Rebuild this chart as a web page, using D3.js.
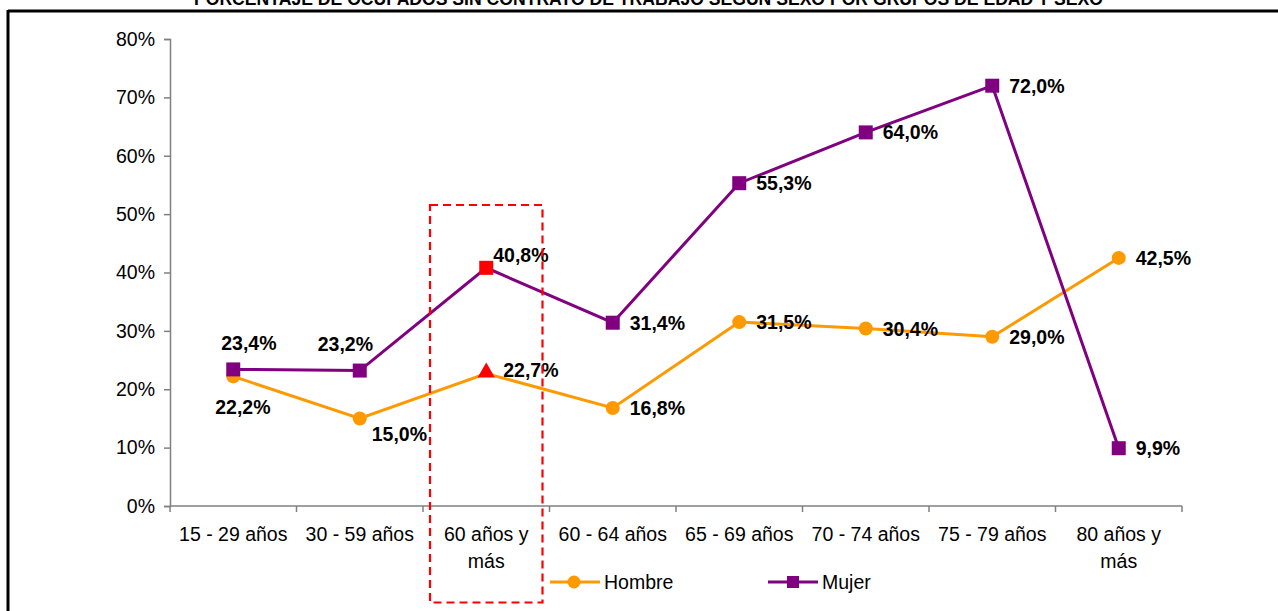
<!DOCTYPE html>
<html>
<head>
<meta charset="utf-8">
<script src="https://cdn.jsdelivr.net/npm/d3@7"></script>
<style>
  html, body { margin: 0; padding: 0; background: #fff; }
  svg { display: block; }
</style>
</head>
<body>
<svg id="chart" width="1278" height="611"></svg>
<script>
// ---- data ----
const title = "PORCENTAJE DE OCUPADOS SIN CONTRATO DE TRABAJO SEGÚN SEXO POR GRUPOS DE EDAD Y SEXO";
const categories = [
  ["15 - 29 años"], ["30 - 59 años"], ["60 años y", "más"], ["60 - 64 años"],
  ["65 - 69 años"], ["70 - 74 años"], ["75 - 79 años"], ["80 años y", "más"]
];
const hombre = [22.2, 15.0, 22.7, 16.8, 31.5, 30.4, 29.0, 42.5];
const mujer  = [23.4, 23.2, 40.8, 31.4, 55.3, 64.0, 72.0, 9.9];
const yTicks = [0, 10, 20, 30, 40, 50, 60, 70, 80];
const seriesNames = ["Hombre", "Mujer"];
const highlightIndex = 2;

// ---- label placement (layout only) ----
const hombreLabelOffsets = [[-18, 38], [12, 23], [17, 4], [17, 7], [17, 7], [17, 7], [17, 7], [17, 7]];
const mujerLabelOffsets  = [[-12, -19], [-42, -20], [7, -6], [17, 7], [17, 7], [17, 7], [17, 7], [17, 7]];

const svg = d3.select("#chart");
const colorH = "#FF9900", colorM = "#800080";
const fontAxis = "'Liberation Sans', Arial, sans-serif";
const axisSize = 19.5;

// Frame
svg.append("line").attr("x1", 8).attr("x2", 1278).attr("y1", 11).attr("y2", 11)
  .attr("stroke", "#000").attr("stroke-width", 3);
svg.append("line").attr("x1", 8).attr("x2", 8).attr("y1", 10).attr("y2", 611)
  .attr("stroke", "#000").attr("stroke-width", 3);

// Title (clipped by top edge, as in the reference)
svg.append("text").text(title)
  .attr("x", 194).attr("y", 5)
  .attr("textLength", 909).attr("lengthAdjust", "spacingAndGlyphs")
  .attr("font-family", "'Liberation Sans Narrow', 'Liberation Sans', Arial, sans-serif")
  .attr("font-weight", "bold").attr("font-size", 18).attr("fill", "#000");

const x = d3.scaleBand().domain(d3.range(categories.length)).range([170, 1182]);
const y = d3.scaleLinear().domain([0, 80]).range([506, 39]);
const cx = i => x(i) + x.bandwidth() / 2;

// Y axis
const yAxis = svg.append("g").attr("transform", "translate(170,0)")
  .call(d3.axisLeft(y).tickValues(yTicks).tickFormat(d => d + "%").tickSize(6).tickPadding(9));
yAxis.select(".domain").attr("stroke", "#808080").attr("stroke-width", 1.5);
yAxis.selectAll(".tick line").attr("stroke", "#808080").attr("stroke-width", 1.5);
yAxis.selectAll(".tick text").attr("font-family", fontAxis).attr("font-size", axisSize).attr("fill", "#000");

// X axis (ticks between categories)
svg.append("line").attr("x1", 170).attr("x2", 1182).attr("y1", y(0)).attr("y2", y(0))
  .attr("stroke", "#808080").attr("stroke-width", 1.5);
svg.append("g").selectAll("line").data(d3.range(categories.length + 1)).join("line")
  .attr("x1", i => 170 + i * x.bandwidth()).attr("x2", i => 170 + i * x.bandwidth())
  .attr("y1", y(0)).attr("y2", y(0) + 6)
  .attr("stroke", "#808080").attr("stroke-width", 1.5);
const catG = svg.append("g");
categories.forEach((lines, i) => {
  const t = catG.append("text").attr("x", cx(i)).attr("y", 541)
    .attr("text-anchor", "middle").attr("font-family", fontAxis).attr("font-size", axisSize).attr("fill", "#000");
  lines.forEach((ln, k) => t.append("tspan").attr("x", cx(i)).attr("dy", k === 0 ? 0 : 27).text(ln));
});

// Lines
const line = d3.line().x((d, i) => cx(i)).y(d => y(d));
svg.append("path").datum(hombre).attr("d", line).attr("fill", "none")
  .attr("stroke", colorH).attr("stroke-width", 3);
svg.append("path").datum(mujer).attr("d", line).attr("fill", "none")
  .attr("stroke", colorM).attr("stroke-width", 3);

// Markers: Hombre circles (triangle highlighted)
hombre.forEach((v, i) => {
  if (i === highlightIndex) {
    svg.append("path").attr("d", d3.symbol(d3.symbolTriangle, 130)())
      .attr("transform", `translate(${cx(i)},${y(v) - 1})`).attr("fill", "#FF0000");
  } else {
    svg.append("circle").attr("cx", cx(i)).attr("cy", y(v)).attr("r", 7).attr("fill", colorH);
  }
});
// Mujer squares
mujer.forEach((v, i) => {
  svg.append("rect").attr("x", cx(i) - 7).attr("y", y(v) - 7).attr("width", 14).attr("height", 14)
    .attr("fill", i === highlightIndex ? "#FF0000" : colorM);
});

// Data labels
const fmt = v => v.toFixed(1).replace(".", ",") + "%";
const addLabels = (vals, offs) => vals.forEach((v, i) => {
  svg.append("text").text(fmt(v))
    .attr("x", cx(i) + offs[i][0]).attr("y", y(v) + offs[i][1])
    .attr("font-family", fontAxis).attr("font-weight", "bold").attr("font-size", 19.5).attr("fill", "#000");
});
addLabels(hombre, hombreLabelOffsets);
addLabels(mujer, mujerLabelOffsets);

// Highlight dashed box
svg.append("rect").attr("x", 430).attr("y", 205).attr("width", 112.5).attr("height", 397.5)
  .attr("fill", "none").attr("stroke", "#FF0000").attr("stroke-width", 2.2)
  .attr("stroke-dasharray", "8,5");

// Legend
const legend = svg.append("g");
[[550, colorH, "circle"], [768, colorM, "square"]].forEach(([lx, col, shape], k) => {
  const ly = 582;
  legend.append("line").attr("x1", lx).attr("x2", lx + 50).attr("y1", ly).attr("y2", ly)
    .attr("stroke", col).attr("stroke-width", 3);
  if (shape === "circle") {
    legend.append("circle").attr("cx", lx + 24).attr("cy", ly).attr("r", 6.5).attr("fill", col);
  } else {
    legend.append("rect").attr("x", lx + 25 - 6).attr("y", ly - 6).attr("width", 12).attr("height", 12).attr("fill", col);
  }
  legend.append("text").text(seriesNames[k]).attr("x", lx + 54).attr("y", ly + 7)
    .attr("font-family", fontAxis).attr("font-size", axisSize).attr("fill", "#000");
});
</script>
</body>
</html>
